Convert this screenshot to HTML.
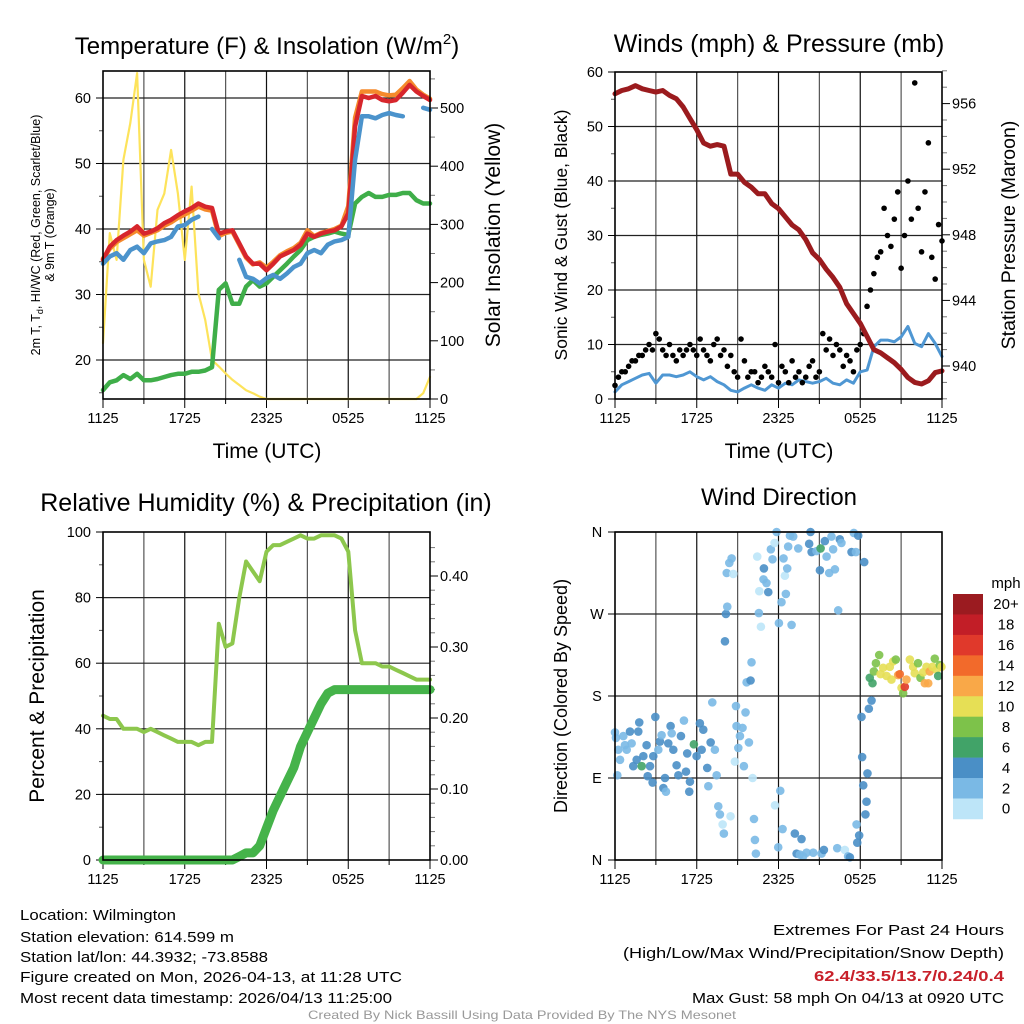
<!DOCTYPE html>
<html><head><meta charset="utf-8"><title>Mesonet Station Summary</title>
<style>
html,body{margin:0;padding:0;background:#fff;}
svg{display:block;font-family:"Liberation Sans",Arial,sans-serif;}
</style></head>
<body>
<svg id="fig" width="1024" height="1024" viewBox="0 0 1024 1024" xmlns="http://www.w3.org/2000/svg">
<rect width="1024" height="1024" fill="#fff"/>
<!-- titles -->
<text x="267" y="54" font-size="24" text-anchor="middle">Temperature (F) &amp; Insolation (W/m<tspan font-size="15" dy="-10">2</tspan><tspan dy="10">)</tspan></text>
<text x="779" y="52" font-size="25" text-anchor="middle">Winds (mph) &amp; Pressure (mb)</text>
<text x="266" y="511" font-size="25" text-anchor="middle">Relative Humidity (%) &amp; Precipitation (in)</text>
<text x="779" y="505" font-size="24" text-anchor="middle">Wind Direction</text>

<g id="g1"></g>
<g id="g2"></g>
<g id="g3"></g>
<g id="g4"></g>

<!-- axis titles -->
<text x="267" y="458" font-size="21" text-anchor="middle">Time (UTC)</text>
<text x="779" y="458" font-size="21" text-anchor="middle">Time (UTC)</text>
<g transform="translate(40,235) rotate(-90)">
<text x="0" y="0" font-size="12.5" text-anchor="middle">2m T, T<tspan font-size="9" dy="3">d</tspan><tspan dy="-3">, HI/WC (Red, Green, Scarlet/Blue)</tspan></text>
<text x="0" y="14" font-size="12.5" text-anchor="middle">&amp; 9m T (Orange)</text>
</g>
<text transform="translate(500,235) rotate(-90)" font-size="21" text-anchor="middle">Solar Insolation (Yellow)</text>
<text transform="translate(567,235) rotate(-90)" font-size="17.5" text-anchor="middle">Sonic Wind &amp; Gust (Blue, Black)</text>
<text transform="translate(1015,235) rotate(-90)" font-size="19.5" text-anchor="middle">Station Pressure (Maroon)</text>
<text transform="translate(44,696) rotate(-90)" font-size="21" text-anchor="middle">Percent &amp; Precipitation</text>
<text transform="translate(567,696) rotate(-90)" font-size="18" text-anchor="middle">Direction (Colored By Speed)</text>

<!-- colorbar -->
<g id="cbar"></g>
<text x="1006" y="588" font-size="15" text-anchor="middle">mph</text>

<!-- footer text -->
<g font-size="15">
<text x="20" y="920" textLength="156" lengthAdjust="spacingAndGlyphs">Location: Wilmington</text>
<text x="20" y="942" textLength="214" lengthAdjust="spacingAndGlyphs">Station elevation: 614.599 m</text>
<text x="20" y="962" textLength="248" lengthAdjust="spacingAndGlyphs">Station lat/lon: 44.3932; -73.8588</text>
<text x="20" y="982" textLength="382" lengthAdjust="spacingAndGlyphs">Figure created on Mon, 2026-04-13, at 11:28 UTC</text>
<text x="20" y="1003" textLength="372" lengthAdjust="spacingAndGlyphs">Most recent data timestamp: 2026/04/13 11:25:00</text>
</g>
<g font-size="15" text-anchor="end">
<text x="1004" y="935" textLength="231" lengthAdjust="spacingAndGlyphs">Extremes For Past 24 Hours</text>
<text x="1004" y="958" textLength="381" lengthAdjust="spacingAndGlyphs">(High/Low/Max Wind/Precipitation/Snow Depth)</text>
<text x="1004" y="981" fill="#c8202a" font-weight="bold" textLength="190" lengthAdjust="spacingAndGlyphs">62.4/33.5/13.7/0.24/0.4</text>
<text x="1004" y="1003" textLength="312" lengthAdjust="spacingAndGlyphs">Max Gust: 58 mph On 04/13 at 0920 UTC</text>
</g>
<text x="522" y="1019" font-size="12" fill="#999" text-anchor="middle" textLength="428" lengthAdjust="spacingAndGlyphs">Created By Nick Bassill Using Data Provided By The NYS Mesonet</text>
</svg>

<script>
// ---------- data (half-hourly from 1125 UTC, 49 points) ----------
const timeLabels = ["1125","1725","2325","0525","1125"];
const tempRed = [35.3,37.3,38.3,39,39.6,40.4,39.3,39.6,40.1,40.9,41.4,42.1,42.7,43.2,43.9,43.4,43.2,39.3,39.6,39.8,37.8,35.8,34.7,34.7,33.7,34.7,35.8,36.3,36.8,37.6,39.3,38.8,39.3,39.6,39.8,40.4,42.4,55.7,60.3,60,60.3,59.7,59.5,59.7,60.8,62,61,60.3,59.7];
const temp9m = [35.5,37.0,38.0,38.6,39.2,39.8,39.0,39.4,39.8,40.5,41.0,41.7,42.2,42.8,43.4,43.0,42.8,38.9,39.4,39.6,37.6,35.6,34.6,34.9,34.1,35.0,36.0,36.6,37.1,37.9,39.8,38.9,39.4,39.7,40.0,40.5,43.5,57.0,61.0,61.0,61.0,60.6,60.4,60.5,61.5,62.6,61.3,60.5,59.9];
const tempBlue = [34.7,35.8,36.3,35.3,36.8,37.3,36.3,37.8,38.1,38.3,38.8,40.4,40.6,41.4,41.9,null,40.0,38.6,null,null,35.3,32.7,32.4,31.7,32.5,33,32.4,33.2,34.2,34.7,36.3,36.8,36.3,37.6,38.1,38.3,38.8,50.6,57.2,57.2,56.9,57.4,57.7,57.4,57.2,null,null,58.5,58.2];
const dewpoint = [15.4,16.6,16.9,17.7,17.1,17.9,16.9,16.9,17.1,17.4,17.7,17.9,17.9,18.2,18.2,18.4,18.9,30.7,31.7,28.6,28.6,31.2,32.2,31.2,31.7,32.7,33.7,34.7,35.8,36.8,38.3,38.8,39.1,39.3,39.6,39.3,39.1,43.9,44.9,45.5,44.9,44.9,45.2,45.2,45.5,45.5,44.4,43.9,43.9];
const insolation = [96,285,239,411,474,560,239,193,325,353,428,353,239,365,182,136,67,56,44,33,24,15,10,4,0,0,0,0,0,0,0,0,0,0,0,0,0,0,0,0,0,0,0,0,0,0,0,10,38];
const pressure = [956.6,956.8,956.9,957.1,956.9,956.8,956.7,956.8,956.5,956.3,955.8,955.1,954.4,953.6,953.4,953.5,953.4,951.7,951.7,951.2,950.9,950.5,950.5,949.9,949.6,949.1,948.6,948.3,947.7,946.9,946.5,945.9,945.4,944.8,943.8,943.2,942.6,941.8,941,940.8,940.5,940.2,939.8,939.3,939,938.9,939.1,939.6,939.7];
const windSpeed = [1.3,2.6,3.2,3.8,4.4,4.7,2.9,4.4,4.4,4.1,4.4,5,4.1,3.5,4.1,3.2,2.6,1.6,1.3,2,2.6,2,1.6,2.6,2,2.9,2.6,3.5,3.2,2.9,3.2,3.8,2.9,2.6,3.5,2.9,5,5.3,9.6,10.8,10.8,10.5,11.4,13.3,10.2,9.6,12,10.2,7.8];
// gusts every 15 min (97 points)
const gusts = [2.5,4,5,5,6,7,7,8,8,9,10,9,12,11,9,8,10,8,7,9,8,9,10,9,8,11,9,8,7,10,11,8,9,6,8,5,4,11,7,4,5,5,3,4,6,5,4,10,3,6,5,3,7,4,5,3,4,6,7,4,5,12,9,11,8,10,9,6,8,7,5,9,10,12,17,20,23,26,27,35,30,28,33,38,24,30,40,33,58,35,27,38,47,26,22,32,29];
const rhValues = [44,43,43,40,40,40,39,40,39,38,37,36,36,36,35,36,36,72,65,66,80,91,88,85,94,96,96,97,98,99,98,98,99,99,99,98,94,70,60,60,60,59,59,58,57,56,55,55,55];
const precipValues = [0,0,0,0,0,0,0,0,0,0,0,0,0,0,0,0,0,0,0,0,0.005,0.01,0.01,0.02,0.045,0.07,0.09,0.11,0.13,0.16,0.18,0.2,0.22,0.235,0.24,0.24,0.24,0.24,0.24,0.24,0.24,0.24,0.24,0.24,0.24,0.24,0.24,0.24,0.24];
// wind direction scatter: hours since 1125, degrees, speed (mph)
const dirHour = [0,0.07,0.24,0.37,0.17,0.61,0.73,0.86,1.1,1.22,1.34,1.59,1.78,1.71,1.96,2.08,2.32,2.4,2.57,2.81,2.76,2.96,3.18,3.3,3.42,3.55,3.67,3.74,3.91,4.08,4.16,4.28,4.52,4.65,4.84,5.06,5.21,5.3,5.5,5.45,5.79,5.99,6.23,6.36,6.48,6.77,6.85,7.02,7.14,7.33,7.46,7.58,7.7,7.9,7.99,8.48,8.07,8.14,8.24,8.2,8.39,8.56,8.68,8.8,8.88,8.92,9.05,9.17,9.36,9.46,9.58,9.83,9.66,9.95,10.02,10.1,10.2,10.27,10.34,10.44,10.56,10.71,10.59,10.9,10.93,11.12,11.25,11.44,11.56,11.71,11.74,11.86,11.98,12.03,12.13,12.22,12.3,12.37,12.47,12.54,12.64,12.71,12.84,12.96,13.08,13.2,13.33,13.45,13.57,13.69,13.81,14.06,14.25,14.35,14.43,14.55,14.79,15.04,15.09,15.16,15.33,15.4,15.53,15.72,15.89,16.01,16.14,16.31,16.38,16.5,16.62,16.87,17.11,17.24,17.36,17.53,17.68,17.78,17.85,17.73,17.92,18.09,18.14,18.22,18.29,18.38,18.46,18.53,18.63,18.83,18.7,18.9,19.0,19.15,19.39,19.49,19.68,19.93,20.17,20.29,20.42,20.61,20.78,20.9,21.03,21.15,21.27,21.39,21.64,21.88,22.0,22.24,22.42,22.62,22.74,22.86,22.99,23.1,23.3,23.47,23.6,23.72,23.84,23.96];
const dirDeg = [140,134,121,110,93,136,126,121,141,128,103,110,151,141,103,114,126,92,103,114,85,157,121,130,137,79,90,75,128,147,139,121,104,93,136,153,97,117,86,75,127,114,150,121,143,101,81,129,173,121,93,59,50,39,29,48,240,270,278,315,326,331,314,108,169,147,123,136,145,103,162,129,195,197,217,90,45,22,7,333,271,256,295,308,320,304,294,341,330,348,60,360,14,260,76,283,34,331,312,292,320,344,356,258,355,29,7,342,6,23,4,8,347,360,338,8,339,318,342,7,11,350,333,315,355,341,319,13,274,352,348,11,4,3,338,359,338,19,356,39,27,157,113,82,327,50,64,95,166,175,200,194,207,216,225,204,211,202,212,198,218,220,203,204,189,183,190,198,220,212,205,216,200,206,194,212,194,207,212,221,209,202,214,212];
const dirSpeed = [2,2,2,2,2,2,2,2,4,2,4,4,4,4,6,4,4,4,4,4,4,4,2,4,2,4,4,2,4,4,2,4,4,4,4,2,4,4,4,4,6,4,4,4,4,4,2,4,2,2,2,2,2,1,2,1,4,4,2,2,2,2,1,1,2,2,2,2,2,2,2,2,2,4,2,1,2,2,2,1,2,1,1,2,4,2,4,2,2,1,1,2,2,2,2,2,2,2,1,2,2,2,2,2,2,4,4,2,2,4,2,2,4,4,4,2,2,4,6,2,4,4,2,2,2,2,2,2,2,4,2,1,2,4,4,2,2,4,4,2,4,4,4,4,4,4,4,4,4,4,6,6,8,8,8,10,10,10,10,10,10,8,12,14,10,8,16,12,10,10,10,8,8,10,12,10,12,12,10,8,10,6,8,10];
const cbarLabels = ["20+","18","16","14","12","10","8","6","4","2","0"];
const cbarColors = ["#9b1b20","#c21e27","#e0392b","#f26a2b","#f9a848","#e6df55","#7dc24a","#41a368","#4a8fc6","#7ab9e5","#bde5f8"];

// ---------- helpers ----------
const NS = "http://www.w3.org/2000/svg";
function mk(parent, tag, attrs){ const e=document.createElementNS(NS,tag); for(const k in attrs) e.setAttribute(k,attrs[k]); parent.appendChild(e); return e; }
function linScale(d0,d1,r0,r1){ return v => r0 + (v-d0)/(d1-d0)*(r1-r0); }
const TF = 14.5;

function frame(g, L, R, T, B, name){
  for(let k=1;k<8;k++){
    const x = L + (R-L)*k/8;
    const ln = mk(g,'line',{x1:x,x2:x,y1:T,y2:B,stroke:(k%2?'#555':'#111'),'stroke-width':1.2});
    
    
  }
  for(let k=0;k<=8;k++){
    const x = L + (R-L)*k/8;
    const t = mk(g,'line',{x1:x,x2:x,y1:B,y2:B+(k%2?5:9),stroke:'#000','stroke-width':1});
    
    
  }
  for(let k=0;k<timeLabels.length;k++){
    const x = L + (R-L)*k/4;
    const tx = mk(g,'text',{x:x,y:B+24,'font-size':TF,'text-anchor':'middle'});
    tx.textContent = timeLabels[k];
    
    
  }
}
function hgrid(g, L, R, y, name){
  const ln = mk(g,'line',{x1:L,x2:R,y1:y,y2:y,stroke:'#222','stroke-width':1.2});
  
  
}
function border(g,L,R,T,B,name){
  const r = mk(g,'rect',{x:L,y:T,width:R-L,height:B-T,fill:'none',stroke:'#000','stroke-width':1.6});
  
  
}
function leftTicks(g, L, vals, sy, fmt, name, minorVals){
  vals.forEach(v=>{
    const y=sy(v);
    mk(g,'line',{x1:L-7,x2:L,y1:y,y2:y,stroke:'#000','stroke-width':1});
    const t=mk(g,'text',{x:L-12,y:y+5,'font-size':TF,'text-anchor':'end'});
    t.textContent=fmt(v);
    
    
  });
  (minorVals||[]).forEach(v=>{ const y=sy(v); mk(g,'line',{x1:L-4,x2:L,y1:y,y2:y,stroke:'#555','stroke-width':1}); });
}
function rightTicks(g, R, vals, sy, fmt, name, minorVals){
  vals.forEach(v=>{
    const y=sy(v);
    mk(g,'line',{x1:R,x2:R+8,y1:y,y2:y,stroke:'#000','stroke-width':1});
    const t=mk(g,'text',{x:R+10,y:y+5,'font-size':TF,'text-anchor':'start'});
    t.textContent=fmt(v);
    
    
  });
  (minorVals||[]).forEach(v=>{ const y=sy(v); mk(g,'line',{x1:R,x2:R+5,y1:y,y2:y,stroke:'#777','stroke-width':1}); });
}
function pathFrom(vals, sx, sy){
  let d='', pen=false;
  vals.forEach((v,i)=>{
    if(v===null){pen=false;return;}
    d += (pen?'L':'M') + sx(i).toFixed(1)+' '+sy(v).toFixed(1)+' ';
    pen=true;
  });
  return d;
}
function series(g, vals, sx, sy, color, w, name){
  const p = mk(g,'path',{d:pathFrom(vals,sx,sy),fill:'none',stroke:color,'stroke-width':w,'stroke-linejoin':'round','stroke-linecap':'round'});
  
  
}

// ---------- panel 1: temperature ----------
(function(){
  const g=document.getElementById('g1');
  const L=103,R=430,T=71,B=399;
  const sx=linScale(0,48,L,R);
  const sy=linScale(20,60,360,98);
  const sy2=linScale(0,500,399,108);
  frame(g,L,R,T,B,'temp');
  [20,30,40,50,60].forEach(v=>hgrid(g,L,R,sy(v),'temp-hgrid'));
  leftTicks(g,L,[20,30,40,50,60],sy,v=>String(v),'temp-y-tick-label',[15,25,35,45,55]);
  rightTicks(g,R,[0,100,200,300,400,500],sy2,v=>String(v),'insolation-y-tick-label',[50,150,250,350,450,550]);
  series(g,insolation,sx,sy2,'#fde35b',2.2,'insolation-line');
  series(g,dewpoint,sx,sy,'#3fae49',4.5,'dewpoint-line');
  series(g,temp9m,sx,sy,'#f58a2c',4.5,'temp-9m-line');
  series(g,tempRed,sx,sy,'#d7262c',4.5,'temp-2m-line');
  series(g,tempBlue,sx,sy,'#4b93cc',4.5,'windchill-line');
  border(g,L,R,T,B,'temp');
})();

// ---------- panel 2: winds & pressure ----------
(function(){
  const g=document.getElementById('g2');
  const L=615,R=942,T=72,B=399;
  const sx=linScale(0,48,L,R);
  const sxg=linScale(0,96,L,R);
  const sy=linScale(0,60,399,72);
  const sy2=linScale(940,956,366,103.6);
  frame(g,L,R,T,B,'wind');
  [10,20,30,40,50].forEach(v=>hgrid(g,L,R,sy(v),'wind-hgrid'));
  leftTicks(g,L,[0,10,20,30,40,50,60],sy,v=>String(v),'wind-y-tick-label',[5,15,25,35,45,55]);
  rightTicks(g,R,[940,944,948,952,956],sy2,v=>String(v),'pressure-y-tick-label',[938,939,941,942,943,945,946,947,949,950,951,953,954,955,957,958]);
  series(g,windSpeed,sx,sy,'#4f97d3',3,'wind-speed-line');
  gusts.forEach((v,j)=>{
    const c=mk(g,'circle',{cx:sxg(j),cy:sy(v),r:2.8,fill:'#000'});
    
    
  });
  series(g,pressure,sx,sy2,'#9b1b1e',5,'pressure-line');
  border(g,L,R,T,B,'wind');
})();

// ---------- panel 3: RH & precip ----------
(function(){
  const g=document.getElementById('g3');
  const L=103,R=430,T=532,B=860;
  const sx=linScale(0,48,L,R);
  const sy=linScale(0,100,860,532);
  const sy2=linScale(0,0.4,860,576);
  frame(g,L,R,T,B,'rh');
  [20,40,60,80].forEach(v=>hgrid(g,L,R,sy(v),'rh-hgrid'));
  leftTicks(g,L,[0,20,40,60,80,100],sy,v=>String(v),'rh-y-tick-label',[10,30,50,70,90]);
  rightTicks(g,R,[0,0.1,0.2,0.3,0.4],sy2,v=>v.toFixed(2),'precip-y-tick-label',[0.02,0.04,0.06,0.08,0.12,0.14,0.16,0.18,0.22,0.24,0.26,0.28,0.32,0.34,0.36,0.38,0.42,0.44]);
  series(g,rhValues,sx,sy,'#8dc74d',4,'rh-line');
  series(g,precipValues,sx,sy2,'#45b34a',9,'precip-line');
  border(g,L,R,T,B,'rh');
})();

// ---------- panel 4: wind direction ----------
(function(){
  const g=document.getElementById('g4');
  const L=615,R=942,T=532,B=860;
  const sx=linScale(0,24,L,R);
  const sy=linScale(0,360,860,532);
  frame(g,L,R,T,B,'dir');
  const dirTicks=[0,90,180,270,360], dirNames=["N","E","S","W","N"];
  dirTicks.forEach((v,k)=>{
    hgrid(g,L,R,sy(v),'dir-hgrid');
    mk(g,'line',{x1:L-7,x2:L,y1:sy(v),y2:sy(v),stroke:'#000','stroke-width':1});
    const t=mk(g,'text',{x:L-18,y:sy(v)+5,'font-size':TF,'text-anchor':'middle'});
    t.textContent=dirNames[k];
    
    
  });
  function col(s){ let b=Math.min(10,Math.floor(s/2)); return cbarColors[10-b]; }
  dirHour.forEach((h,i)=>{
    const c=mk(g,'circle',{cx:sx(h),cy:sy(dirDeg[i]),r:4.3,fill:col(dirSpeed[i]),'fill-opacity':0.9});
    
    
  });
  border(g,L,R,T,B,'dir');
})();

// ---------- colorbar ----------
(function(){
  const g=document.getElementById('cbar');
  const top=594, h=20.45;
  cbarLabels.forEach((lab,k)=>{
    const r=mk(g,'rect',{x:953,y:top+k*h,width:30,height:h+0.3,fill:cbarColors[k]});
    
    
    const t=mk(g,'text',{x:1006,y:top+k*h+h/2+5,'font-size':15,'text-anchor':'middle'});
    t.textContent=lab;
    
    
  });
})();
</script>
</body></html>
